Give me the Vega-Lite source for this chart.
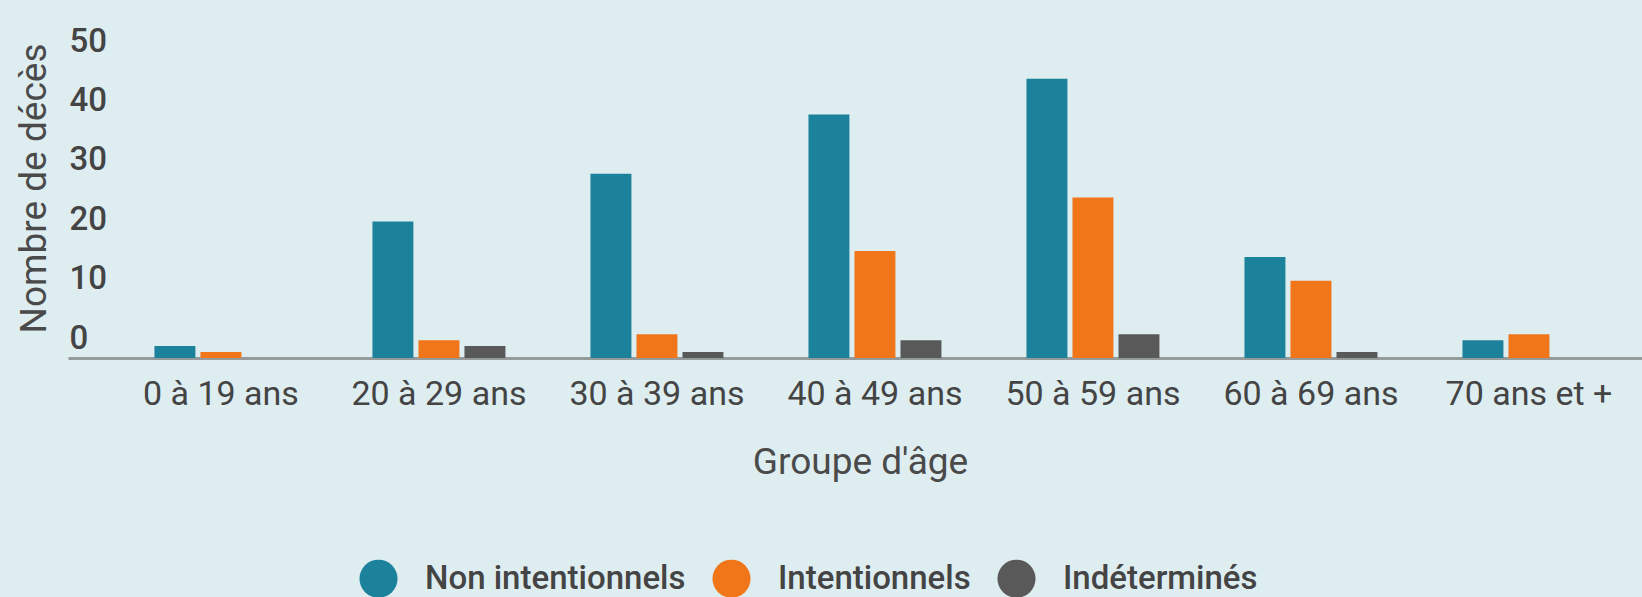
{
  "$schema": "https://vega.github.io/schema/vega-lite/v6.json",
  "width": 1574,
  "height": 297,
  "autosize": {"type": "none"},
  "padding": {"left": 68, "top": 61, "right": 0, "bottom": 239},
  "background": "#deedf0",
  "config": {"view": {"stroke": null}, "font": "Roboto"},
  "data": {
    "values": [
      {"groupe": "0 à 19 ans", "type": "Non intentionnels", "deces": 2},
      {"groupe": "0 à 19 ans", "type": "Intentionnels", "deces": 1},
      {"groupe": "0 à 19 ans", "type": "Indéterminés", "deces": 0},
      {"groupe": "20 à 29 ans", "type": "Non intentionnels", "deces": 23},
      {"groupe": "20 à 29 ans", "type": "Intentionnels", "deces": 3},
      {"groupe": "20 à 29 ans", "type": "Indéterminés", "deces": 2},
      {"groupe": "30 à 39 ans", "type": "Non intentionnels", "deces": 31},
      {"groupe": "30 à 39 ans", "type": "Intentionnels", "deces": 4},
      {"groupe": "30 à 39 ans", "type": "Indéterminés", "deces": 1},
      {"groupe": "40 à 49 ans", "type": "Non intentionnels", "deces": 41},
      {"groupe": "40 à 49 ans", "type": "Intentionnels", "deces": 18},
      {"groupe": "40 à 49 ans", "type": "Indéterminés", "deces": 3},
      {"groupe": "50 à 59 ans", "type": "Non intentionnels", "deces": 47},
      {"groupe": "50 à 59 ans", "type": "Intentionnels", "deces": 27},
      {"groupe": "50 à 59 ans", "type": "Indéterminés", "deces": 4},
      {"groupe": "60 à 69 ans", "type": "Non intentionnels", "deces": 17},
      {"groupe": "60 à 69 ans", "type": "Intentionnels", "deces": 13},
      {"groupe": "60 à 69 ans", "type": "Indéterminés", "deces": 1},
      {"groupe": "70 ans et +", "type": "Non intentionnels", "deces": 3},
      {"groupe": "70 ans et +", "type": "Intentionnels", "deces": 4},
      {"groupe": "70 ans et +", "type": "Indéterminés", "deces": 0}
    ]
  },
  "mark": {"type": "bar"},
  "encoding": {
    "x": {
      "field": "groupe",
      "type": "nominal",
      "sort": ["0 à 19 ans", "20 à 29 ans", "30 à 39 ans", "40 à 49 ans", "50 à 59 ans", "60 à 69 ans", "70 ans et +"],
      "scale": {"paddingInner": 0.39, "paddingOuter": 0.305, "align": 0.65},
      "axis": {
        "title": "Groupe d'âge",
        "titleFontSize": 37,
        "titleFontWeight": "normal",
        "titleColor": "#4a4a4a",
        "titleX": 792,
        "titleY": 115,
        "titleAlign": "center",
        "titleBaseline": "alphabetic",
        "labelAngle": 0,
        "labelFontSize": 34,
        "labelColor": "#444444",
        "labelBaseline": "alphabetic",
        "labelPadding": 46,
        "labelLimit": 400,
        "ticks": false,
        "tickSize": 0,
        "domainColor": "#959b9b",
        "domainWidth": 3
      }
    },
    "xOffset": {
      "field": "type",
      "sort": ["Non intentionnels", "Intentionnels", "Indéterminés"],
      "scale": {"paddingInner": 0.11, "paddingOuter": 0}
    },
    "y": {
      "field": "deces",
      "type": "quantitative",
      "scale": {"domain": [0, 50], "nice": false},
      "axis": {
        "title": "Nombre de décès",
        "titleFontSize": 37,
        "titleFontWeight": "normal",
        "titleColor": "#4a4a4a",
        "titleAngle": -90,
        "titleX": -23,
        "titleY": 127,
        "titleAlign": "center",
        "titleBaseline": "alphabetic",
        "values": [0, 10, 20, 30, 40, 50],
        "labelFontSize": 33,
        "labelFontWeight": 500,
        "labelColor": "#444444",
        "labelAlign": "left",
        "labelBaseline": "alphabetic",
        "labelPadding": -1,
        "labelOffset": -10,
        "labelOverlap": false,
        "labelFlush": false,
        "ticks": false,
        "tickSize": 0,
        "domain": false,
        "grid": false
      }
    },
    "color": {
      "field": "type",
      "type": "nominal",
      "sort": ["Non intentionnels", "Intentionnels", "Indéterminés"],
      "scale": {
        "domain": ["Non intentionnels", "Intentionnels", "Indéterminés"],
        "range": ["#1c829b", "#f07619", "#595959"]
      },
      "legend": {
        "orient": "none",
        "legendX": 291,
        "legendY": 498,
        "direction": "horizontal",
        "title": null,
        "padding": 0,
        "symbolType": "circle",
        "symbolSize": 1452,
        "symbolStrokeWidth": 0,
        "symbolOpacity": 1,
        "labelFontSize": 33,
        "labelFontWeight": 500,
        "labelColor": "#444444",
        "labelOffset": 27,
        "labelLimit": 500,
        "columnPadding": 26
      }
    }
  }
}
